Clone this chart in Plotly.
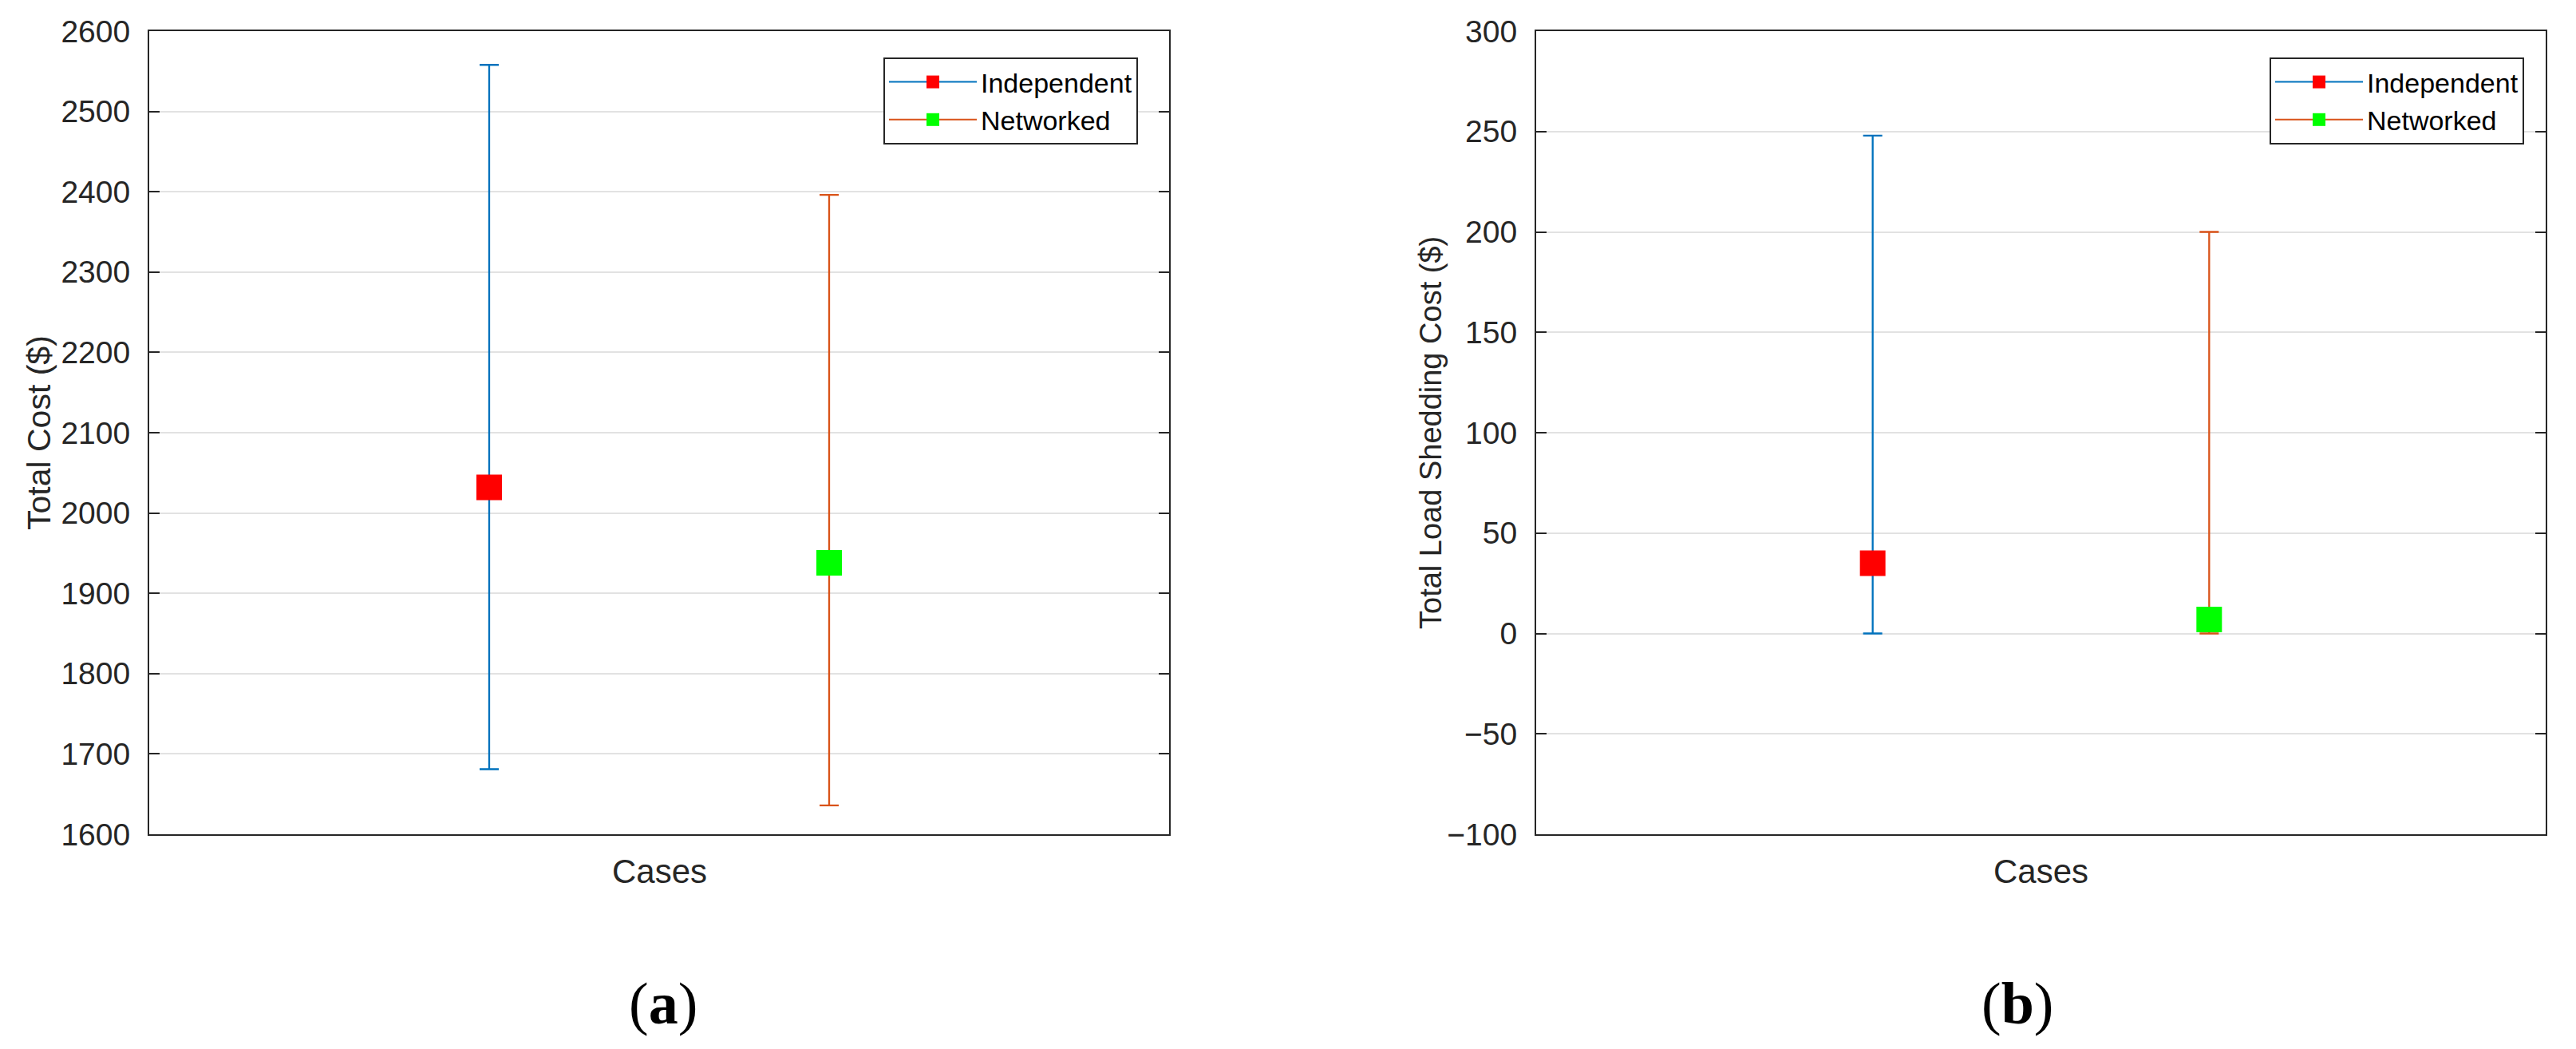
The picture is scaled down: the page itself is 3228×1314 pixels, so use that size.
import plotly.graph_objects as go

# ---------------- data ----------------
cases = ["Independent", "Networked"]
case_pos = [1, 2]

cost_mean = [2032, 1938]
cost_lower = [1681, 1636]
cost_upper = [2558, 2396]

shed_mean = [35, 7]
shed_lower = [0, 0]
shed_upper = [248, 200]

cost_ticks = list(range(1600, 2601, 100))
shed_ticks = list(range(-100, 301, 50))

line_colors = ["#0072BD", "#D95319"]
marker_colors = ["#FF0000", "#00FF00"]

FONT = "Arial, 'Liberation Sans', Helvetica, sans-serif"
AX = "#262626"

W, H = 3212, 1298  # page body has 8px margin


def px(x):
    return (x - 8) / W


def py(y):
    return 1 - (y - 8) / H


fig = go.Figure()

panels = [
    (cost_mean, cost_lower, cost_upper, "x", "y", "legend"),
    (shed_mean, shed_lower, shed_upper, "x2", "y2", "legend2"),
]
for means, lows, ups, xa, ya, lg in panels:
    for i, name in enumerate(cases):
        fig.add_trace(go.Scatter(
            x=[case_pos[i]], y=[means[i]],
            mode="lines+markers",
            name=name,
            xaxis=xa, yaxis=ya, legend=lg,
            line=dict(color=line_colors[i], width=2),
            marker=dict(symbol="square", size=32, color=marker_colors[i],
                        line=dict(width=0)),
            error_y=dict(type="data", symmetric=False,
                         array=[ups[i] - means[i]],
                         arrayminus=[means[i] - lows[i]],
                         color=line_colors[i], thickness=2.3, width=12),
            hoverinfo="skip",
        ))

common_x = dict(range=[0, 3], showticklabels=False, ticks="", showgrid=False,
                zeroline=False, showline=True, linecolor=AX, linewidth=2,
                mirror=True, automargin=False)
common_y = dict(showgrid=True, gridcolor="#e2e2e2", gridwidth=2, zeroline=False,
                showline=True, linecolor=AX, linewidth=2, mirror="ticks",
                ticks="inside", ticklen=13, tickwidth=2, tickcolor=AX,
                tickfont=dict(family=FONT, size=39, color=AX),
                ticklabelstandoff=14, automargin=False)

legend_common = dict(
    xanchor="right", yanchor="top",
    bgcolor="white", bordercolor=AX, borderwidth=2,
    font=dict(family=FONT, size=34, color="black"),
    itemwidth=110, tracegroupgap=0,
)

fig.update_layout(
    width=W, height=H,
    autosize=False,
    margin=dict(l=0, r=0, t=0, b=0, pad=0, autoexpand=False),
    paper_bgcolor="white", plot_bgcolor="white",
    showlegend=True,
    xaxis=dict(domain=[px(187), px(1465)], anchor="y", **common_x),
    yaxis=dict(domain=[py(1045), py(39)], anchor="x", range=[1600, 2600],
               tickvals=cost_ticks, **common_y),
    xaxis2=dict(domain=[px(1925), px(3190)], anchor="y2", **common_x),
    yaxis2=dict(domain=[py(1045), py(39)], anchor="x2", range=[-100, 300],
                tickvals=shed_ticks, **common_y),
    legend=dict(x=px(1426), y=py(72), **legend_common),
    legend2=dict(x=px(3163), y=py(72), **legend_common),
    annotations=[
        dict(text="Total Cost ($)", x=px(49), y=py(542), xref="paper", yref="paper",
             textangle=-90, showarrow=False, xanchor="center", yanchor="middle",
             font=dict(family=FONT, size=41, color=AX)),
        dict(text="Total Load Shedding Cost ($)", x=px(1793), y=py(542),
             xref="paper", yref="paper", textangle=-90, showarrow=False,
             xanchor="center", yanchor="middle",
             font=dict(family=FONT, size=38, color=AX)),
        dict(text="Cases", x=px(826), y=py(1091), xref="paper", yref="paper",
             showarrow=False, xanchor="center", yanchor="middle",
             font=dict(family=FONT, size=42, color=AX)),
        dict(text="Cases", x=px(2557), y=py(1091), xref="paper", yref="paper",
             showarrow=False, xanchor="center", yanchor="middle",
             font=dict(family=FONT, size=42, color=AX)),
        dict(text="(<b>a</b>)", x=px(831), y=py(1257), xref="paper", yref="paper",
             showarrow=False, xanchor="center", yanchor="middle",
             font=dict(family="'Liberation Serif', 'Times New Roman', serif",
                       size=74, color="black")),
        dict(text="(<b>b</b>)", x=px(2528), y=py(1257), xref="paper", yref="paper",
             showarrow=False, xanchor="center", yanchor="middle",
             font=dict(family="'Liberation Serif', 'Times New Roman', serif",
                       size=74, color="black")),
    ],
)

fig.write_html("out.html")
